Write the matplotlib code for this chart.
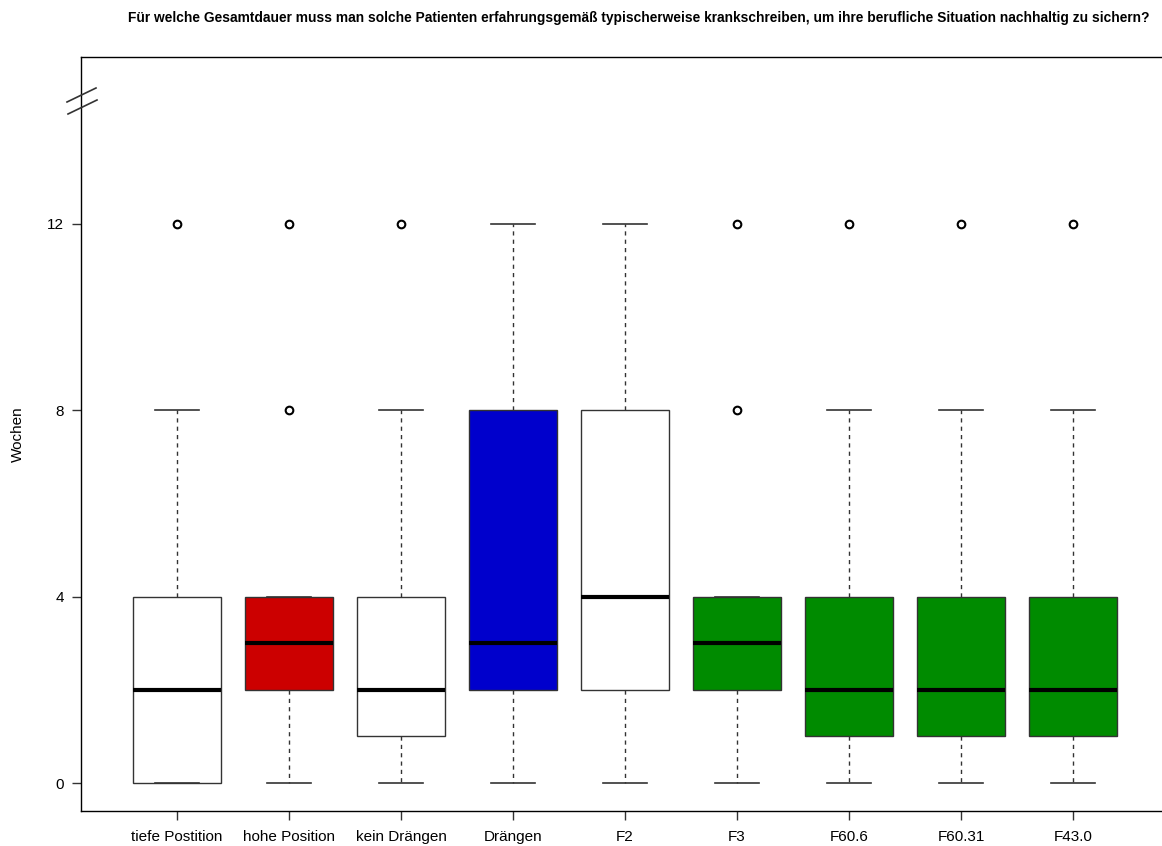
import matplotlib.pyplot as plt
from matplotlib.lines import Line2D

plt.rcParams['font.family'] = ['Liberation Sans', 'DejaVu Sans']

labels = ['tiefe Postition', 'hohe Position', 'kein Drängen', 'Drängen',
          'F2', 'F3', 'F60.6', 'F60.31', 'F43.0']
whis_lo = [0, 0, 0, 0, 0, 0, 0, 0, 0]
q1 = [0, 2, 1, 2, 2, 2, 1, 1, 1]
med = [2, 3, 2, 3, 4, 3, 2, 2, 2]
q3 = [4, 4, 4, 8, 8, 4, 4, 4, 4]
whis_hi = [8, 4, 8, 12, 12, 4, 8, 8, 8]
outliers = [[12], [8, 12], [12], [], [], [8, 12], [12], [12], [12]]
colors = ['white', '#CC0000', 'white', '#0000CC', 'white',
          '#008B00', '#008B00', '#008B00', '#008B00']

stats = []
for i in range(len(labels)):
    stats.append(dict(label=labels[i], whislo=whis_lo[i], q1=q1[i], med=med[i],
                      q3=q3[i], whishi=whis_hi[i], fliers=outliers[i]))

W, H = 1162, 846
fig = plt.figure(figsize=(W / 100, H / 100), dpi=100)
ax = fig.add_axes([81 / W, 1 - 811 / H, (1169 - 81) / W, (811 - 57) / H])

bp = ax.bxp(stats, widths=0.786, patch_artist=True, showfliers=True,
            boxprops=dict(edgecolor='#333333', linewidth=1),
            medianprops=dict(color='black', linewidth=3),
            whiskerprops=dict(color='#333333', linestyle=(0, (3, 3)), linewidth=1),
            capprops=dict(color='#333333', linewidth=1.2),
            capwidths=0.4,
            flierprops=dict(marker='o', markerfacecolor='none', markeredgecolor='black',
                            markersize=5.5, markeredgewidth=1.5))
for patch, c in zip(bp['boxes'], colors):
    patch.set_facecolor(c)

ax.set_xlim(0.143, 9.857)
ax.set_ylim(-0.6, 15.58)
ax.set_yticks([0, 4, 8, 12])
ax.tick_params(axis='both', length=6.5, labelsize=11, width=1, color='#333333')
ax.tick_params(axis='x', pad=7)
ax.tick_params(axis='y', pad=6)
ax.set_ylabel('Wochen', fontsize=11)
ax.yaxis.set_label_coords((25 - 81) / 1088, 0.5)
for s in ax.spines.values():
    s.set_linewidth(1)
    s.set_color('black')

# axis break marks
fig.add_artist(Line2D([67 / W, 96 / W], [1 - 102 / H, 1 - 88 / H], color='#333333', lw=1.2))
fig.add_artist(Line2D([68 / W, 97 / W], [1 - 114 / H, 1 - 100 / H], color='#333333', lw=1.2))

fig.text(638.5 / W, 1 - 18 / H, 'Für welche Gesamtdauer muss man solche Patienten erfahrungsgemäß typischerweise krankschreiben, um ihre berufliche Situation nachhaltig zu sichern?',
         ha='center', va='center', fontsize=9.9, fontweight='bold')

fig.savefig('out.png', dpi=100)
